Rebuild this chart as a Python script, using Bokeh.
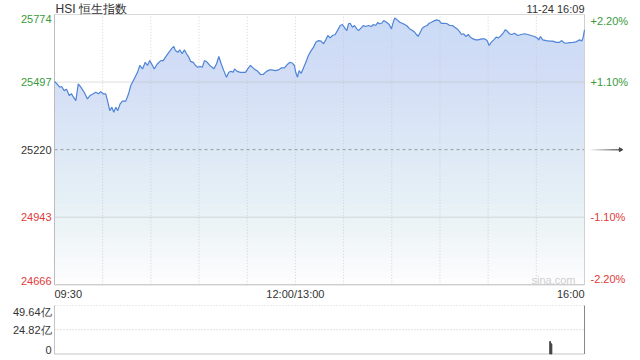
import numpy as np
from bokeh.plotting import figure
from bokeh.models import Range1d
from bokeh.core.properties import value
from bokeh.embed import file_html
from bokeh.resources import INLINE

# ---------------- data ----------------
title = "HSI 恒生指数"
stamp = "11-24 16:09"
prev_close = 25220
price_ticks = [25774, 25497, 25220, 24943, 24666]
pct_labels = ["+2.20%", "+1.10%", "", "-1.10%", "-2.20%"]
time_ticks = [0, 150, 330]
time_labels = ["09:30", "12:00/13:00", "16:00"]
grid_minutes = [30, 60, 90, 120, 150, 180, 210, 240, 270, 300]
vol_ticks = [49.64, 24.82, 0]
vol_labels = ["49.64亿", "24.82亿", "0"]
watermark = "sina.com"

# minutes since 09:30 on the trading clock (lunch break removed)
t = [0, 1.9, 3.3, 4.5, 6.0, 7.5, 9.2, 10.6, 11.8, 13.3, 14.8, 16.4, 18.5, 20.5, 22.2,
     24.1, 25.7, 27.4, 28.8, 30.3, 31.9, 33.0, 34.4, 35.7, 36.9, 38.2, 39.4, 40.9, 42.3,
     44.4, 46.1, 47.5, 49.6, 51.7, 53.1, 54.8, 56.5, 57.9, 59.3, 61.0, 62.1, 64.1, 66.2,
     67.7, 69.1, 71.2, 73.3, 74.3, 75.3, 76.8, 78.0, 79.5, 80.9, 82.2, 83.6, 84.7, 86.4,
     87.8, 89.2, 90.9, 92.0, 93.4, 95.1, 96.7, 98.2, 99.2, 100.9, 102.3, 103.8, 105.4,
     107.1, 108.5, 110.0, 111.3, 112.1, 113.7, 115.8, 117.5, 118.9, 120.3, 122.0, 123.7,
     125.1, 126.6, 128.3, 129.9, 132.0, 134.0,
     135.3, 137.4, 139.5, 141.1, 143.2, 144.9, 146.7, 148.2, 149.4, 150.2, 151.3, 152.3,
     153.6, 155.0, 156.5, 158.1, 159.8, 161.3, 162.7, 164.4, 166.0, 167.5, 168.9, 170.2,
     171.6, 173.1, 174.8, 176.4, 177.9, 179.3, 181.1, 182.0, 183.1, 184.1, 185.5, 186.8,
     188.2, 189.3, 190.9, 192.4, 193.8, 195.5, 197.2, 198.6, 200.0, 201.3,
     202.2, 203.6, 205.0, 206.7, 208.4, 209.8, 210.9, 211.9, 213.4, 215.0, 217.1, 219.2,
     221.2, 222.9, 224.3, 225.4, 226.4, 227.4, 229.1, 230.5, 232.0, 233.3, 234.7, 236.1,
     237.8, 239.5, 240.9, 243.0, 244.5, 246.1, 247.8, 249.2, 250.7, 252.0, 253.4, 254.8,
     256.1, 257.6, 259.0, 260.7, 262.3, 263.8, 265.9, 267.9,
     269.4, 270.6, 271.9, 273.5, 275.0, 276.4, 278.1, 279.7, 280.6, 281.8, 283.3, 284.7,
     286.4, 288.4, 290.6, 292.6, 294.7, 296.8, 298.9, 300.5, 301.5, 302.6, 304.0, 306.2,
     308.2, 310.2, 312.4, 314.4, 315.9, 317.1, 318.6, 320.6, 322.7, 324.8, 326.9, 328.3,
     329.2, 330.0]
price = [25500, 25487, 25476, 25479, 25462, 25468, 25442, 25449, 25435, 25421, 25490, 25476,
         25455, 25428, 25442, 25449, 25455, 25449, 25458, 25449, 25449, 25421, 25380, 25394,
         25373, 25394, 25380, 25408, 25419, 25419, 25449, 25483, 25510, 25537, 25565, 25551,
         25578, 25565, 25585, 25565, 25551, 25572, 25585,
         25585, 25599, 25619, 25637, 25643, 25626, 25619, 25629, 25613, 25629, 25613, 25599,
         25582, 25578, 25565, 25558, 25561, 25558, 25585, 25578, 25565, 25558, 25551, 25572,
         25602, 25572, 25544, 25517, 25537, 25541, 25537, 25551, 25541, 25537, 25537, 25537,
         25551, 25565, 25555, 25547, 25541, 25528, 25528, 25541, 25547,
         25547, 25544, 25547, 25555, 25555, 25569, 25578, 25574, 25565, 25537, 25517, 25544,
         25533, 25555, 25578, 25606, 25626, 25640, 25660, 25667, 25665, 25654, 25670, 25688,
         25678, 25688, 25692, 25711, 25729, 25733, 25715, 25708, 25736, 25738, 25722, 25729,
         25715, 25708, 25719, 25729, 25725, 25729, 25725, 25733, 25729, 25742,
         25736, 25738, 25749, 25742, 25733, 25715, 25742, 25760, 25752, 25742, 25736, 25729,
         25715, 25708, 25701, 25692, 25684, 25697, 25719, 25725, 25729, 25738, 25742, 25747,
         25752, 25749, 25738, 25738, 25736, 25729, 25729, 25722, 25715, 25706, 25692, 25695,
         25684, 25692, 25681, 25674, 25670, 25670, 25674, 25674,
         25667, 25647, 25660, 25670, 25681, 25678, 25688, 25701, 25711, 25706, 25695, 25692,
         25697, 25688, 25692, 25695, 25692, 25688, 25684, 25678, 25670, 25684, 25670, 25667,
         25665, 25665, 25660, 25660, 25667, 25659, 25656, 25659, 25660, 25662, 25670, 25665,
         25681, 25711]
vol_t = [308.6, 309.4]
vol_v = [12.8, 10.4]   # 亿

# ---------------- layout ----------------
W, H = 640, 360
L, R, T, B = 54.0, 584.0, 14.0, 284.3      # price frame in pixels
VT, VB = 305.0, 353.5                      # volume frame in pixels
tmin, tmax = time_ticks[0], time_ticks[-1]
pmax, pmin = price_ticks[0], price_ticks[-1]
vmax = vol_ticks[0]

sx = (tmax - tmin) / (R - L)
x0, x1 = tmin - L * sx, tmax + (W - R) * sx
sy = (pmax - pmin) / (B - T)
y1, y0 = pmax + T * sy, pmin - (H - B) * sy
sv = vmax / (VB - VT)
v1, v0 = vmax + VT * sv, -(H - VB) * sv

def X(px):
    return x0 + px * sx

def Y(py):
    return y1 - py * sy

FONT = value("Liberation Sans")
GREEN, RED, DARK = "#3a9a3a", "#e03a3a", "#333333"

p = figure(width=W, height=H, x_range=Range1d(x0, x1), y_range=Range1d(y0, y1),
           output_backend="svg", toolbar_location=None,
           x_axis_location=None, y_axis_location=None, min_border=0,
           outline_line_color=None, background_fill_color="white",
           border_fill_color="white")
p.xgrid.visible = False
p.ygrid.visible = False
p.extra_y_ranges = {"vol": Range1d(v0, v1)}

# area with vertical gradient: stacked white veils, each reaching the bottom
p.varea(x=t, y1=pmin, y2=price, fill_color="#c9dbf6")
n = 40
edges = np.linspace(pmax, pmin, n + 1)[:-1]
target = 1.0 - 0.97 * (np.arange(n) + 1.0) / n          # remaining colour fraction
prev = np.concatenate([[1.0], target[:-1]])
veil_alpha = 1.0 - target / prev
p.quad(left=tmin, right=tmax, top=edges, bottom=pmin,
       fill_color="white", fill_alpha=veil_alpha, line_color=None)

# grid
p.segment(x0=grid_minutes, y0=pmin, x1=grid_minutes, y1=pmax,
          line_color="#c8c8c8", line_dash="1 2", line_width=1, line_alpha=0.8)
for tick in price_ticks[1:-1]:
    if tick == prev_close:
        p.segment(x0=tmin, y0=tick, x1=tmax, y1=tick, line_color="#9a9a9a",
                  line_dash="3 3", line_width=1)
    else:
        p.segment(x0=tmin, y0=tick, x1=tmax, y1=tick, line_color="#bcbcbc",
                  line_dash="1 1", line_width=1)

# frame
p.segment(x0=tmin, y0=pmax, x1=tmax, y1=pmax, line_color="#d9d9d9", line_width=1)
p.segment(x0=tmin, y0=pmin, x1=tmax, y1=pmin, line_color="#bdbdbd", line_width=1)
p.segment(x0=tmin, y0=pmin, x1=tmin, y1=pmax, line_color="#bdbdbd", line_width=1)
p.segment(x0=tmax, y0=pmin, x1=tmax, y1=pmax, line_color="#d0d0d0", line_width=1)

# price line
p.line(t, price, line_color="#4f84d6", line_width=1.2)

# watermark
p.text(x=[X(553)], y=[Y(279)], text=[watermark], text_font=FONT,
       text_font_size="11px", text_color="#cfcfcf", text_align="center",
       text_baseline="middle")

# price tick labels and percent labels
def tick_color(v):
    return GREEN if v > prev_close else (RED if v < prev_close else DARK)

baselines = ["top"] + ["middle"] * (len(price_ticks) - 2) + ["bottom"]
for tick, pct, bl in zip(price_ticks, pct_labels, baselines):
    p.text(x=[X(51)], y=[tick], text=[str(tick)], text_font=FONT,
           text_font_size="11px", text_color=tick_color(tick), text_align="right",
           text_baseline=bl)
    if pct:
        p.text(x=[X(590)], y=[tick], text=[pct], text_font=FONT,
               text_font_size="11px", text_color=tick_color(tick), text_align="left",
               text_baseline=bl)

# previous close arrow (gradient)
k = 14
ax = np.linspace(X(589), X(619), k + 1)
p.segment(x0=ax[:-1], y0=prev_close, x1=ax[1:], y1=prev_close,
          line_color="#555555", line_alpha=np.linspace(0.05, 0.9, k), line_width=1.5)
p.scatter(x=[X(620)], y=[prev_close], marker="triangle", angle=-np.pi / 2,
          size=4, color="#444444")

# time labels
for tt, lab, al in zip(time_ticks, time_labels, ["left", "center", "right"]):
    p.text(x=[tt], y=[Y(287)], text=[lab], text_font=FONT, text_font_size="11px",
           text_color=DARK, text_align=al, text_baseline="top")

# title and stamp
p.text(x=[X(55)], y=[Y(8)], text=[title], text_font=FONT, text_font_size="12px",
       text_color=DARK, text_align="left", text_baseline="middle")
p.text(x=[tmax], y=[Y(8)], text=[stamp], text_font=FONT, text_font_size="11px",
       text_color=DARK, text_align="right", text_baseline="middle")

# ---------------- volume ----------------
p.segment(x0=tmin, y0=vol_ticks[1], x1=tmax, y1=vol_ticks[1], line_color="#c4c4c4",
          line_dash="1 2", y_range_name="vol")
p.segment(x0=tmin, y0=vol_ticks[0], x1=tmax, y1=vol_ticks[0], line_color="#d4d4d4",
          line_dash="1 2", y_range_name="vol")
p.segment(x0=tmin, y0=0, x1=tmax, y1=0, line_color="#8a8a8a",
          line_dash="1 1", y_range_name="vol")
p.segment(x0=tmin, y0=0, x1=tmin, y1=vmax, line_color="#c4c4c4", y_range_name="vol")
p.segment(x0=tmax, y0=0, x1=tmax, y1=vmax, line_color="#888888", y_range_name="vol")
p.vbar(x=vol_t, top=vol_v, bottom=0, width=0.5, color="#444444", y_range_name="vol")

for vt, lab, bl in zip(vol_ticks, vol_labels, ["top", "middle", "bottom"]):
    p.text(x=[X(51)], y=[vt], text=[lab], text_font=FONT, text_font_size="11px",
           text_color=DARK, text_align="right", text_baseline=bl, y_range_name="vol")

open("out.html", "w").write(file_html(p, INLINE))
